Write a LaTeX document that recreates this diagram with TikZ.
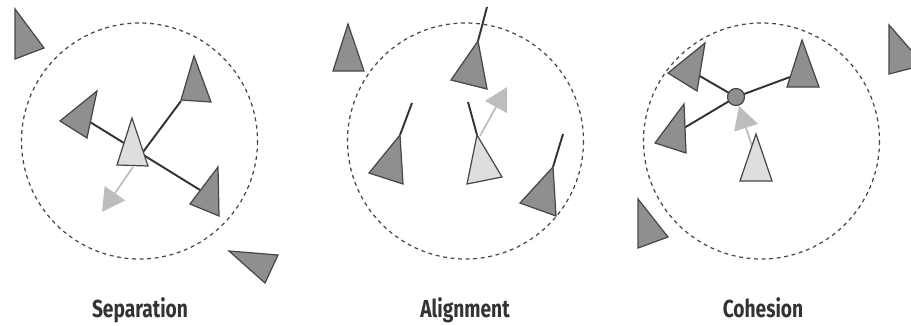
\documentclass[tikz,border=0pt]{standalone}
\usepackage{fontspec}
\setmainfont{Fira Sans}[FakeStretch=0.78]
\usetikzlibrary{arrows.meta}

\definecolor{boidgray}{gray}{0.56}
\definecolor{leadgray}{gray}{0.87}
\definecolor{edgegray}{gray}{0.28}
\definecolor{steergray}{gray}{0.74}

\tikzset{
  boid/.style={fill=boidgray, draw=edgegray, line width=0.7pt, line join=miter},
  leader/.style={fill=leadgray, draw=edgegray, line width=0.7pt, line join=miter},
  zone/.style={draw=edgegray, dashed, dash pattern=on 2.2pt off 2.1pt, line width=0.7pt},
  link/.style={draw=black!80, line width=1.1pt},
  steer/.style={draw=steergray, line width=1pt, -{Triangle[length=13pt,width=14pt]}},
  caption/.style={anchor=base, text=black!80, font=\bfseries\fontsize{14}{16}\selectfont}
}

\begin{document}
\begin{tikzpicture}[x=0.02cm, y=-0.02cm]
  \useasboundingbox (0,0) rectangle (911,325);
  \clip (0,0) rectangle (911,325);

  % Separation
  \draw[zone] (139.5,141) circle [radius=118];
  \coordinate (sL) at (90,122);
  \coordinate (sBR) at (200,190);
  \coordinate (sC) at (143,152);
  \coordinate (sTR) at (181,101);
  \coordinate (sA) at (133,167);
  \coordinate (sB) at (102,212);
  \draw[link] (sL) -- (sBR);
  \draw[link] (sC) -- (sTR);
  \draw[steer] (sA) -- (sB);
  \filldraw[boid] (15,9) -- (44,48) -- (15,59) -- cycle;
  \filldraw[boid] (194,56) -- (181,100) -- (211,102) -- cycle;
  \filldraw[boid] (60,121) -- (97,91) -- (87,138) -- cycle;
  \filldraw[leader] (132,118) -- (117,165) -- (148,166) -- cycle;
  \filldraw[boid] (218,167) -- (190,204) -- (219,216) -- cycle;
  \filldraw[boid] (229,251) -- (278,255) -- (265,283) -- cycle;
  \node[caption] (sep) at (140,317) {Separation};

  % Alignment
  \draw[zone] (465.5,141) circle [radius=118];
  \coordinate (aT1) at (478,41);  \coordinate (aT2) at (487,7);
  \coordinate (aL1) at (400,135); \coordinate (aL2) at (412,103);
  \coordinate (aC1) at (477,135); \coordinate (aC2) at (468,102);
  \coordinate (aR1) at (553,167); \coordinate (aR2) at (563,134);
  \coordinate (aA) at (480,136);  \coordinate (aB) at (507,87);
  \draw[link] (aT1) -- (aT2);
  \draw[link] (aL1) -- (aL2);
  \draw[link] (aC1) -- (aC2);
  \draw[link] (aR1) -- (aR2);
  \draw[steer] (aA) -- (aB);
  \filldraw[boid] (348,24) -- (333,71) -- (364,71) -- cycle;
  \filldraw[boid] (478,41) -- (451,80) -- (487,89) -- cycle;
  \filldraw[boid] (400,135) -- (369,173) -- (403,184) -- cycle;
  \filldraw[leader] (477,135) -- (467,184) -- (502,177) -- cycle;
  \filldraw[boid] (553,167) -- (520,203) -- (556,216) -- cycle;
  \node[caption] (ali) at (465,317) {Alignment};

  % Cohesion
  \draw[zone] (761.5,141) circle [radius=118];
  \coordinate (cM) at (736,97);
  \coordinate (cTL) at (698,75);
  \coordinate (cLL) at (684,128);
  \coordinate (cTR) at (790,77);
  \coordinate (cA) at (752,146);
  \coordinate (cB) at (739,106);
  \draw[link] (cM) -- (cTL);
  \draw[link] (cM) -- (cLL);
  \draw[link] (cM) -- (cTR);
  \draw[steer] (cA) -- (cB);
  \filldraw[boid] (cM) circle [radius=8.5];
  \filldraw[boid] (668,73) -- (705,43) -- (697,91) -- cycle;
  \filldraw[boid] (655,143) -- (684,104) -- (686,153) -- cycle;
  \filldraw[boid] (802,40) -- (787,87) -- (819,87) -- cycle;
  \filldraw[leader] (756,134) -- (740,181) -- (772,181) -- cycle;
  \filldraw[boid] (638,199) -- (668,237) -- (638,248) -- cycle;
  \filldraw[boid] (889,25) -- (924,65) -- (889,74) -- cycle;
  \node[caption] (coh) at (763,317) {Cohesion};
\end{tikzpicture}
\end{document}
